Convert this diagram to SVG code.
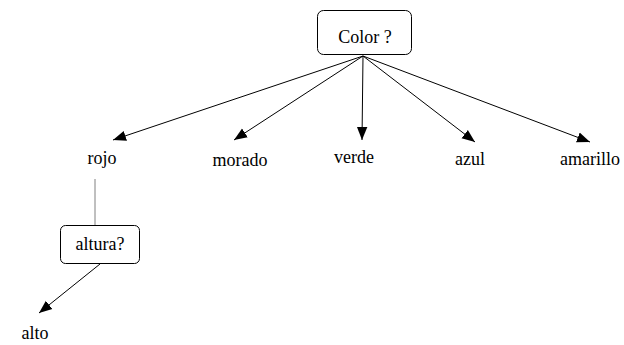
<svg xmlns="http://www.w3.org/2000/svg" width="624" height="345" viewBox="0 0 624 345">
<style>
.box{fill:#fff;stroke:#000;stroke-width:1}
.edge{stroke:#000;stroke-width:1;fill:none}
</style>
<defs>
<marker id="ah" viewBox="0 0 10 10" refX="10" refY="5" markerWidth="13" markerHeight="13" markerUnits="userSpaceOnUse" orient="auto">
<path d="M0,1 L10,5 L0,9 Z" fill="#000"/>
</marker>
</defs>
<g id="connectors">
<line class="edge" x1="363" y1="56" x2="113" y2="140" marker-end="url(#ah)"/>
<line class="edge" x1="363" y1="56" x2="234" y2="140" marker-end="url(#ah)"/>
<line class="edge" x1="363" y1="56" x2="362" y2="140" marker-end="url(#ah)"/>
<line class="edge" x1="363" y1="56" x2="475" y2="142" marker-end="url(#ah)"/>
<line class="edge" x1="363" y1="56" x2="590" y2="142" marker-end="url(#ah)"/>
<line x1="95" y1="179" x2="95" y2="225" stroke="#808080" stroke-width="1"/>
<line class="edge" x1="100" y1="264" x2="39" y2="313" marker-end="url(#ah)"/>
</g>
<g id="color"><rect class="box" x="317.5" y="10.5" width="94" height="44" rx="6"/><text x="365" y="43" font-family="Liberation Serif, serif" font-size="18" text-anchor="middle">Color ?</text></g>
<g id="rojo"><text x="102" y="164" font-family="Liberation Serif, serif" font-size="18" text-anchor="middle">rojo</text></g>
<g id="morado"><text x="240" y="166" font-family="Liberation Serif, serif" font-size="18" text-anchor="middle">morado</text></g>
<g id="verde"><text x="354" y="163" font-family="Liberation Serif, serif" font-size="18" text-anchor="middle">verde</text></g>
<g id="azul"><text x="470" y="165" font-family="Liberation Serif, serif" font-size="18" text-anchor="middle">azul</text></g>
<g id="amarillo"><text x="590" y="165" font-family="Liberation Serif, serif" font-size="18" text-anchor="middle">amarillo</text></g>
<g id="altura"><rect class="box" x="60.5" y="225.5" width="79" height="38" rx="5"/><text x="100" y="250" font-family="Liberation Serif, serif" font-size="18" text-anchor="middle">altura?</text></g>
<g id="alto"><text x="35" y="339" font-family="Liberation Serif, serif" font-size="18" text-anchor="middle">alto</text></g>
</svg>
